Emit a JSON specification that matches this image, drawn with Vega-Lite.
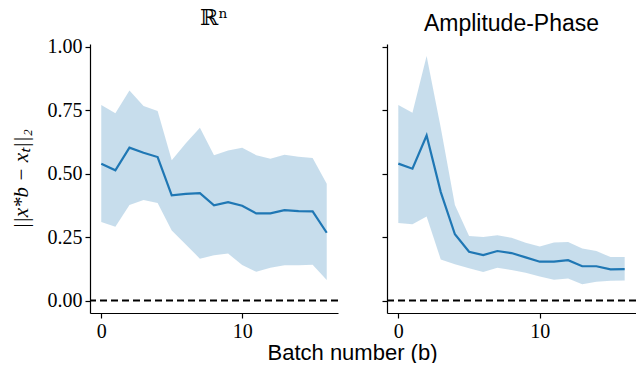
{
  "$schema": "https://vega.github.io/schema/vega-lite/v6.json",
  "padding": {"left": 10, "top": 6, "right": 0, "bottom": 0},
  "bounds": "flush",
  "spacing": 49,
  "datasets": {
    "series": [
      {"panel": "R", "b": 0, "mean": 0.539, "lo": 0.309, "hi": 0.770},
      {"panel": "R", "b": 1, "mean": 0.513, "lo": 0.291, "hi": 0.737},
      {"panel": "R", "b": 2, "mean": 0.602, "lo": 0.376, "hi": 0.827},
      {"panel": "R", "b": 3, "mean": 0.582, "lo": 0.396, "hi": 0.766},
      {"panel": "R", "b": 4, "mean": 0.565, "lo": 0.384, "hi": 0.746},
      {"panel": "R", "b": 5, "mean": 0.414, "lo": 0.276, "hi": 0.552},
      {"panel": "R", "b": 6, "mean": 0.420, "lo": 0.221, "hi": 0.619},
      {"panel": "R", "b": 7, "mean": 0.423, "lo": 0.165, "hi": 0.680},
      {"panel": "R", "b": 8, "mean": 0.375, "lo": 0.178, "hi": 0.572},
      {"panel": "R", "b": 9, "mean": 0.387, "lo": 0.185, "hi": 0.591},
      {"panel": "R", "b": 10, "mean": 0.373, "lo": 0.140, "hi": 0.602},
      {"panel": "R", "b": 11, "mean": 0.343, "lo": 0.113, "hi": 0.572},
      {"panel": "R", "b": 12, "mean": 0.343, "lo": 0.129, "hi": 0.558},
      {"panel": "R", "b": 13, "mean": 0.356, "lo": 0.139, "hi": 0.574},
      {"panel": "R", "b": 14, "mean": 0.352, "lo": 0.139, "hi": 0.566},
      {"panel": "R", "b": 15, "mean": 0.351, "lo": 0.141, "hi": 0.561},
      {"panel": "R", "b": 16, "mean": 0.267, "lo": 0.081, "hi": 0.460},
      {"panel": "AP", "b": 0, "mean": 0.539, "lo": 0.305, "hi": 0.770},
      {"panel": "AP", "b": 1, "mean": 0.519, "lo": 0.300, "hi": 0.739},
      {"panel": "AP", "b": 2, "mean": 0.650, "lo": 0.331, "hi": 0.963},
      {"panel": "AP", "b": 3, "mean": 0.427, "lo": 0.162, "hi": 0.680},
      {"panel": "AP", "b": 4, "mean": 0.261, "lo": 0.143, "hi": 0.376},
      {"panel": "AP", "b": 5, "mean": 0.192, "lo": 0.127, "hi": 0.254},
      {"panel": "AP", "b": 6, "mean": 0.179, "lo": 0.112, "hi": 0.250},
      {"panel": "AP", "b": 7, "mean": 0.195, "lo": 0.129, "hi": 0.257},
      {"panel": "AP", "b": 8, "mean": 0.187, "lo": 0.120, "hi": 0.247},
      {"panel": "AP", "b": 9, "mean": 0.170, "lo": 0.109, "hi": 0.228},
      {"panel": "AP", "b": 10, "mean": 0.153, "lo": 0.095, "hi": 0.213},
      {"panel": "AP", "b": 11, "mean": 0.153, "lo": 0.082, "hi": 0.229},
      {"panel": "AP", "b": 12, "mean": 0.159, "lo": 0.087, "hi": 0.231},
      {"panel": "AP", "b": 13, "mean": 0.135, "lo": 0.064, "hi": 0.205},
      {"panel": "AP", "b": 14, "mean": 0.135, "lo": 0.074, "hi": 0.195},
      {"panel": "AP", "b": 15, "mean": 0.123, "lo": 0.078, "hi": 0.171},
      {"panel": "AP", "b": 16, "mean": 0.124, "lo": 0.079, "hi": 0.171}
    ],
    "zero": [{"y": 0}]
  },
  "hconcat": [
    {
      "width": 248,
      "height": 269,
      "title": {"text": "ℝⁿ", "font": "DejaVu Serif", "fontSize": 22, "fontWeight": "normal", "color": "black", "offset": 7},
      "layer": [
        {
          "data": {"name": "series"},
          "transform": [{"filter": "datum.panel == 'R'"}],
          "mark": {"type": "area", "color": "#1f77b4", "opacity": 0.25},
          "encoding": {
            "x": {"field": "b", "type": "quantitative", "scale": {"domain": [-0.8, 16.8], "nice": false, "zero": false},
                  "axis": {"values": [0, 10], "title": "Batch number (b)", "titleX": 262, "titleAnchor": "middle", "titleAlign": "center", "titlePadding": 1}},
            "y": {"field": "lo", "type": "quantitative", "scale": {"domain": [-0.049, 1.01], "nice": false, "zero": false},
                  "axis": {"values": [0, 0.25, 0.5, 0.75, 1], "format": ".2f", "title": "||x*b − xₜ||₂", "titleFontStyle": "italic", "titleFont": "Liberation Serif", "titleFontSize": 21, "titlePadding": 16}},
            "y2": {"field": "hi"}
          }
        },
        {
          "data": {"name": "series"},
          "transform": [{"filter": "datum.panel == 'R'"}],
          "mark": {"type": "line", "color": "#1f77b4", "strokeWidth": 2.2},
          "encoding": {
            "x": {"field": "b", "type": "quantitative"},
            "y": {"field": "mean", "type": "quantitative"}
          }
        },
        {
          "data": {"name": "zero"},
          "mark": {"type": "rule", "color": "black", "strokeWidth": 2, "strokeDash": [7, 4]},
          "encoding": {"y": {"field": "y", "type": "quantitative"}}
        }
      ]
    },
    {
      "width": 249,
      "height": 269,
      "title": {"text": "Amplitude-Phase", "font": "Liberation Sans", "fontSize": 23, "fontWeight": "normal", "color": "black", "offset": 8},
      "layer": [
        {
          "data": {"name": "series"},
          "transform": [{"filter": "datum.panel == 'AP'"}],
          "mark": {"type": "area", "color": "#1f77b4", "opacity": 0.25},
          "encoding": {
            "x": {"field": "b", "type": "quantitative", "scale": {"domain": [-0.8, 16.8], "nice": false, "zero": false},
                  "axis": {"values": [0, 10], "title": null}},
            "y": {"field": "lo", "type": "quantitative", "scale": {"domain": [-0.049, 1.01], "nice": false, "zero": false},
                  "axis": {"values": [0, 0.25, 0.5, 0.75, 1], "labels": false, "title": null}},
            "y2": {"field": "hi"}
          }
        },
        {
          "data": {"name": "series"},
          "transform": [{"filter": "datum.panel == 'AP'"}],
          "mark": {"type": "line", "color": "#1f77b4", "strokeWidth": 2.2},
          "encoding": {
            "x": {"field": "b", "type": "quantitative"},
            "y": {"field": "mean", "type": "quantitative"}
          }
        },
        {
          "data": {"name": "zero"},
          "mark": {"type": "rule", "color": "black", "strokeWidth": 2, "strokeDash": [7, 4]},
          "encoding": {"y": {"field": "y", "type": "quantitative"}}
        }
      ]
    }
  ],
  "config": {
    "view": {"stroke": null},
    "axis": {
      "grid": false,
      "domainColor": "black",
      "domainWidth": 1.2,
      "tickColor": "black",
      "tickWidth": 1.2,
      "tickSize": 5,
      "labelFont": "Liberation Serif",
      "labelFontSize": 20,
      "labelColor": "black",
      "labelPadding": 3,
      "titleFont": "Liberation Sans",
      "titleFontSize": 22,
      "titleFontWeight": "normal",
      "titleColor": "black"
    }
  }
}
